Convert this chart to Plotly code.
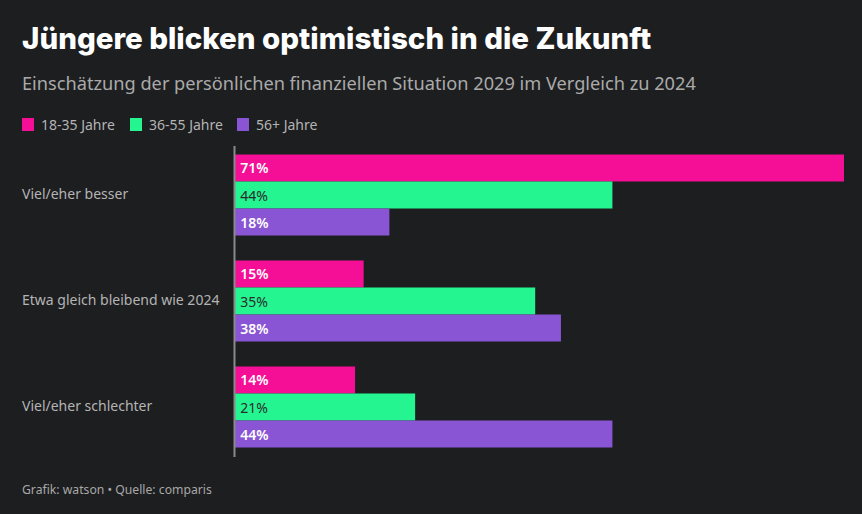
import plotly.graph_objects as go

categories = ["Viel/eher besser", "Etwa gleich bleibend wie 2024", "Viel/eher schlechter"]
series_names = ["18-35 Jahre", "36-55 Jahre", "56+ Jahre"]
values_18_35 = [71, 15, 14]
values_36_55 = [44, 35, 21]
values_56 = [18, 38, 44]
colors = ["#f50f96", "#25f591", "#8a55d4"]
text_colors = ["#ffffff", "#2a2b2d", "#ffffff"]
text_weights = [600, 400, 600]

BG = "#1d1e20"
W, H = 862, 514
L, R, T, B = 235, 18, 142, 54
FONT = "Noto Sans"

fig = go.Figure()
for name, vals, col, tcol, tw in zip(series_names, [values_18_35, values_36_55, values_56], colors, text_colors, text_weights):
    fig.add_trace(go.Bar(
        y=categories, x=vals, name=name, orientation="h",
        marker=dict(color=col, line=dict(width=0)),
        text=[f"\u2009{v}%" for v in vals], textposition="inside", insidetextanchor="start",
        textfont=dict(color=tcol, size=14, family=FONT, weight=tw),
        cliponaxis=False, hoverinfo="skip",
    ))

pw = W - L - R
ph = H - T - B

def px_x(x):
    return (x - L) / pw

def px_y(y):
    return 1 - (y - T) / ph

annotations = []
for c in categories:
    annotations.append(dict(x=px_x(20), xref="paper", y=c, yref="y", yshift=2, text=c, showarrow=False,
                            xanchor="left", yanchor="middle", font=dict(size=14, color="#b4b4b4", family=FONT)))
annotations.append(dict(x=px_x(20), xref="paper", y=px_y(38), yref="paper", text="Jüngere blicken optimistisch in die Zukunft",
                        showarrow=False, xanchor="left", yanchor="middle",
                        font=dict(size=29.5, color="#ffffff", family="Inter", weight=800)))
annotations.append(dict(x=px_x(20), xref="paper", y=px_y(83), yref="paper",
                        text="Einschätzung der persönlichen finanziellen Situation 2029 im Vergleich zu 2024",
                        showarrow=False, xanchor="left", yanchor="middle",
                        font=dict(size=18.2, color="#aaaaaa", family=FONT)))
annotations.append(dict(x=px_x(20), xref="paper", y=px_y(489), yref="paper",
                        text="Grafik: watson • Quelle: comparis",
                        showarrow=False, xanchor="left", yanchor="middle",
                        font=dict(size=12.2, color="#a8a8a8", family=FONT)))

shapes = []
leg_x = [22, 130, 237]
for lx, name, col in zip(leg_x, series_names, colors):
    shapes.append(dict(type="rect", xref="paper", yref="paper",
                       x0=px_x(lx), x1=px_x(lx + 12), y0=px_y(118), y1=px_y(131),
                       fillcolor=col, line=dict(width=0), layer="above"))
    annotations.append(dict(x=px_x(lx + 17), xref="paper", y=px_y(124.5), yref="paper", text=name,
                            showarrow=False, xanchor="left", yanchor="middle",
                            font=dict(size=14, color="#b4b4b4", family=FONT)))
shapes.append(dict(type="line", xref="paper", yref="paper", x0=px_x(234.5), x1=px_x(234.5),
                   y0=px_y(146), y1=px_y(457), line=dict(color="#8a8a8a", width=2), layer="above"))

fig.update_layout(
    width=W, height=H,
    margin=dict(l=L, r=R, t=T, b=B, pad=0),
    paper_bgcolor=BG, plot_bgcolor=BG,
    barmode="group", bargap=0.235, bargroupgap=0.0,
    showlegend=False,
    xaxis=dict(range=[0, 71], visible=False, fixedrange=True),
    yaxis=dict(autorange="reversed", showticklabels=False, showgrid=False, zeroline=False, showline=False, fixedrange=True),
    annotations=annotations, shapes=shapes,
)

fig.write_html("out.html", config={"displayModeBar": False},
               post_script="document.body.style.margin='0';document.body.style.background='#1d1e20';")
